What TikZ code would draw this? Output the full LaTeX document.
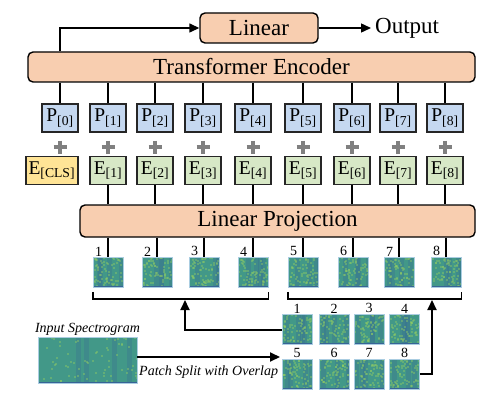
\documentclass[tikz,border=0pt]{standalone}
\usepackage{fontspec}
\setmainfont{Liberation Serif}
\usetikzlibrary{arrows.meta,calc}
\definecolor{peach}{RGB}{248,206,176}
\definecolor{pblue}{RGB}{197,216,240}
\definecolor{egreen}{RGB}{215,232,198}
\definecolor{clsyellow}{RGB}{255,228,150}
\definecolor{specbase}{RGB}{66,152,136}
\definecolor{specgreen}{RGB}{150,208,96}
\definecolor{specblue}{RGB}{55,100,150}
\definecolor{specedge}{RGB}{170,205,225}
\tikzset{
  block/.style={draw, line width=1.4pt, rounded corners=5pt, fill=peach, inner sep=0pt,
    font=\fontsize{23}{25}\selectfont},
  tok/.style={draw=black!85, line width=1.3pt, inner sep=0pt, minimum width=36pt,
    minimum height=28pt, font=\fontsize{19.5}{21}\selectfont},
  link/.style={line width=1.4pt},
  arrow/.style={-{Triangle[length=10pt,width=9pt]}, line width=1.4pt},
  plus/.style={draw=black!50, line width=3.5pt},
  brk/.style={line width=1.6pt},
  num/.style={inner sep=1pt, font=\fontsize{14}{16}\selectfont},
  lbl/.style={inner sep=1pt, font=\fontsize{14}{16}\selectfont\itshape},
  spec/.style={draw=specedge, line width=0.6pt, fill=specbase, inner sep=0pt,
    minimum width=30pt, minimum height=30pt,
    path picture={
      \coordinate (sw) at (path picture bounding box.south west);
      \coordinate (ne) at (path picture bounding box.north east);
      \foreach \k in {1,...,4}{
        \coordinate (px) at ($(sw)!rnd!(sw -| ne)$);
        \fill[specblue, opacity=.25] (px |- sw) rectangle ++(5,-60);
      }
      \foreach \k in {1,...,70}{
        \coordinate (px) at ($(sw)!rnd!(sw -| ne)$);
        \coordinate (py) at ($(sw)!rnd!(sw |- ne)$);
        \fill[specgreen, opacity=.4] (px |- py) rectangle ++(2,-2);
      }
      \fill[specblue] (sw) rectangle ($(sw -| ne)+(0,-1.3)$);
    }}
}
\begin{document}
\begin{tikzpicture}[x=1pt,y=-1pt]
    \pgfmathsetseed{7}
    \useasboundingbox (0,0) rectangle (500,401);
    \node[block, minimum width=118pt, minimum height=30pt] (linear) at (259,28) {Linear};
    \node[anchor=west, inner sep=4pt, font=\fontsize{23}{25}\selectfont] (out) at (371,28) {Output};
    \node[block, minimum width=447pt, minimum height=30pt] (enc) at (251.5,67) {Transformer Encoder};
    \node[block, minimum width=395pt, minimum height=32pt] (proj) at (277.5,221) {Linear Projection};
    \draw[arrow] (linear) -- (out);
    % tokens
    \foreach \i/\x in {0/60,1/108,2/155,3/203,4/253,5/303,6/352,7/398,8/445}{
        \node[tok, fill=pblue] (p\i) at (\x,118) {P\textsubscript{[\i]}};
        \draw[link] (enc.south -| p\i) -- (p\i);
        \draw[plus] (\x-6.5,147) -- (\x+6.5,147) (\x,140.5) -- (\x,153.5);
    }
    \draw[arrow] (enc.north -| p0) |- (linear);
    \node[tok, fill=clsyellow, minimum width=52pt, anchor=east] (e0) at (78.5,170.5) {E\textsubscript{[CLS]}};
    \foreach \i/\x in {1/108,2/155,3/203,4/253,5/303,6/352,7/398,8/445}{
        \node[tok, fill=egreen] (e\i) at (\x,170.5) {E\textsubscript{[\i]}};
        \draw[link] (e\i) -- (proj.north -| e\i);
    }
    % patches
    \foreach \i/\x in {1/108,2/157,3/204,4/253,5/303,6/353,7/399,8/446}{
        \node[spec] (t\i) at (\x,272.5) {};
        \node[num, anchor=south] (n\i) at ([xshift=6pt]t\i.north west) {\i};
        \draw[link, line width=2pt] (proj.south -| t\i) -- (t\i);
    }
    \draw[brk] ([yshift=-4pt]t1.south west) -- ([yshift=-11pt]t1.south west)
        -- ([yshift=-11pt]t4.south east) -- ([yshift=-4pt]t4.south east);
    \draw[brk] ([yshift=-4pt]t5.south west) -- ([yshift=-11pt]t5.south west)
        -- ([yshift=-11pt]t8.south east) -- ([yshift=-4pt]t8.south east);
    \foreach \i/\x/\y in {1/297/329.5,2/334/329.5,3/369/329.5,4/404.5/329.5,
                          5/297/374,6/334/374,7/369/374,8/404.5/374}{
        \node[spec] (g\i) at (\x,\y) {};
        \node[num, anchor=south] (m\i) at (g\i.north) {\i};
    }
    \coordinate (la) at (185,300);
    \coordinate (ra) at (432,300);
    \draw[arrow, line width=2pt] (g1) -| (la);
    \draw[arrow, line width=2pt] (g8) -| (ra);
    % input
    \node[spec, minimum width=99pt, minimum height=46pt] (inspec) at (87.5,360) {};
    \node[lbl, anchor=south] (inlbl) at (inspec.north) {Input Spectrogram};
    \coordinate (split) at (280,357);
    \draw[arrow, line width=2pt] (inspec.east |- split) -- (split)
        node[midway, below=7pt, lbl] (splitlbl) {Patch Split with Overlap};
\end{tikzpicture}
\end{document}
